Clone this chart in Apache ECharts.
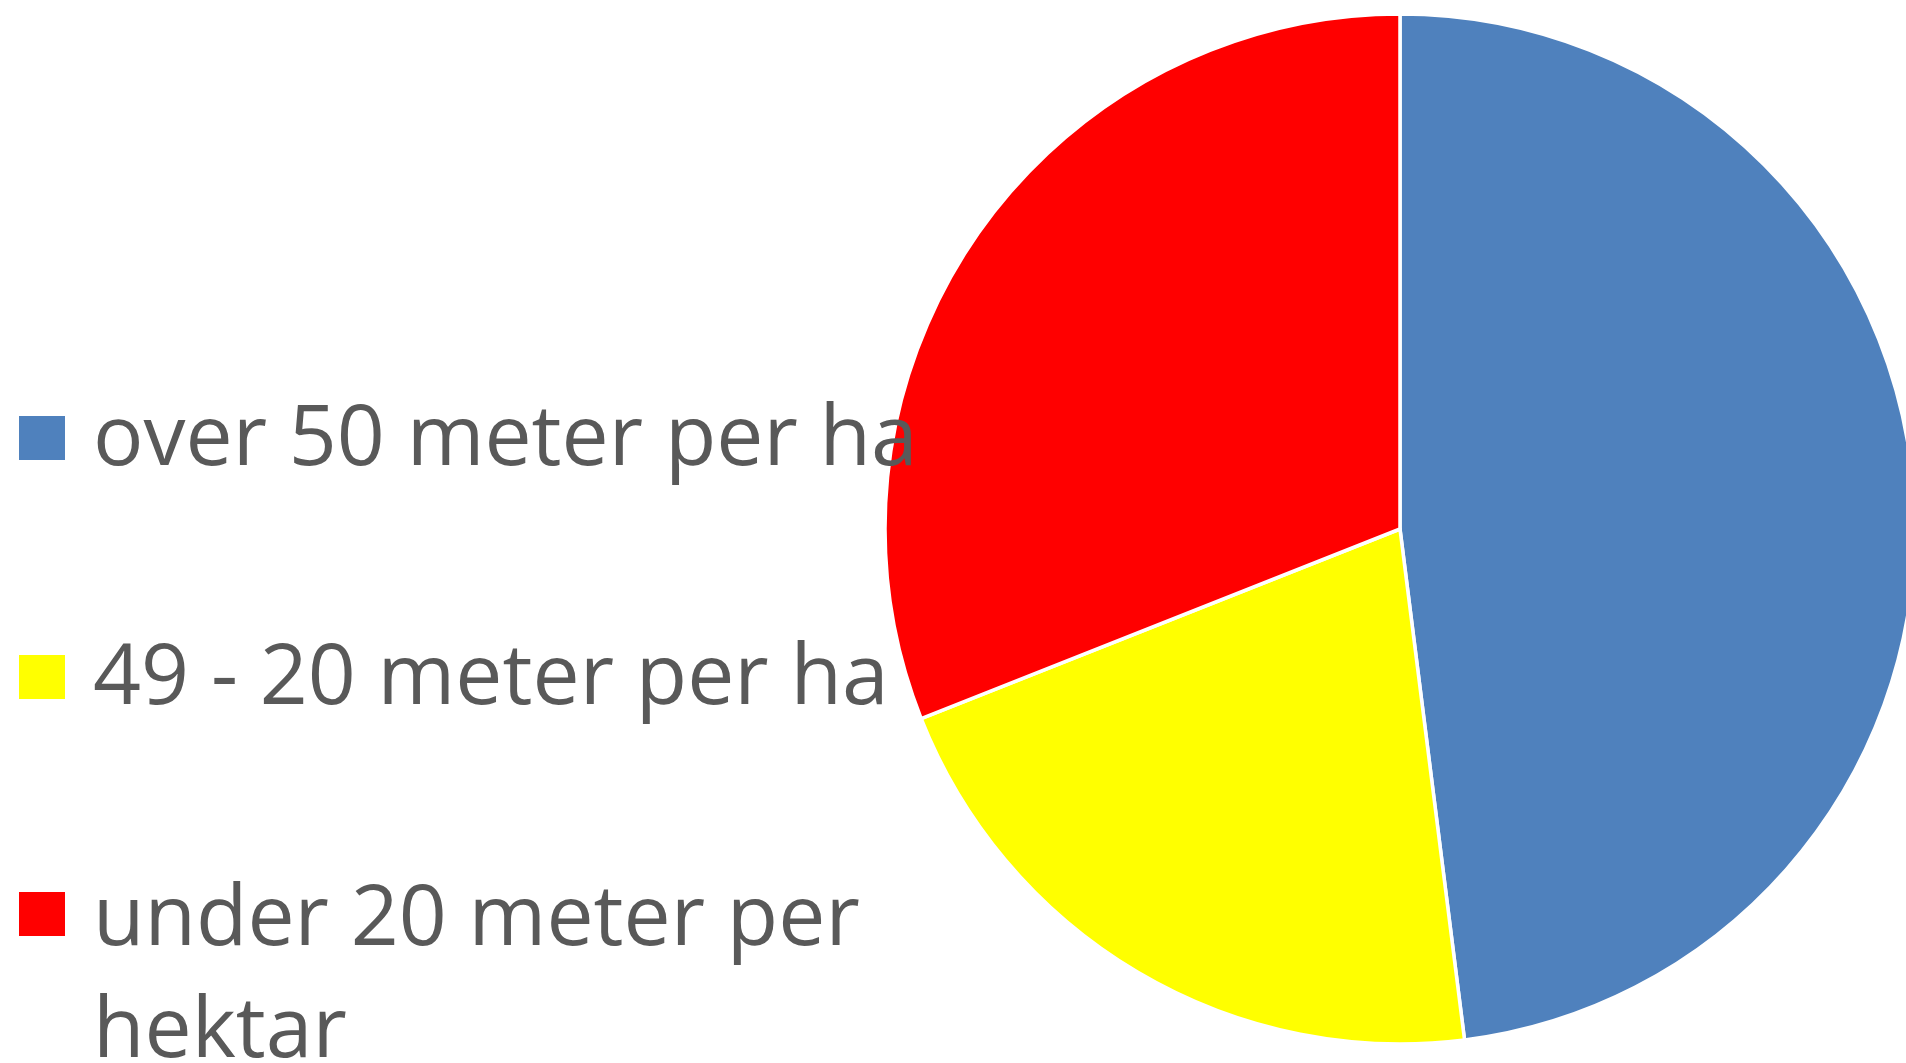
<!DOCTYPE html>
<html>
<head>
<meta charset="utf-8">
<script src="https://cdn.jsdelivr.net/npm/echarts@6/dist/echarts.min.js"></script>
<style>
html,body{margin:0;padding:0;background:#fff;}
#chart{width:1906px;height:1063px;}
</style>
</head>
<body>
<div id="chart"></div>
<script>
const categories = ['over 50 meter per ha', '49 - 20 meter per ha', 'under 20 meter per hektar'];
const shares = [48, 21, 31];
const colors = ['#4F81BD', '#FFFF00', '#FF0000'];

const chart = echarts.init(document.getElementById('chart'), null, {renderer: 'canvas'});

const FONT = '"Open Sans", "Noto Sans", sans-serif';

function legendFor(i, top, spacer, wrap) {
  return {
    show: true,
    orient: 'vertical',
    left: 19,
    top: top,
    padding: 0,
    icon: 'rect',
    itemWidth: 46,
    itemHeight: 44,
    selectedMode: false,
    itemStyle: {borderWidth: 0},
    data: [categories[i]],
    formatter: function (name) {
      const lines = wrap ? name.replace(/ (\S+)$/, '\n$1').split('\n') : [name];
      return '{s| }\n' + lines.map(l => '{t|' + l + '}').join('\n');
    },
    textStyle: {
      fontFamily: FONT,
      fontSize: 84,
      color: '#595959',
      padding: [0, 0, 0, 23],
      rich: {
        s: {fontFamily: FONT, fontSize: 84, lineHeight: spacer, color: '#595959'},
        t: {fontFamily: FONT, fontSize: 84, lineHeight: 112, color: '#595959'}
      }
    }
  };
}

const option = {
  animation: false,
  backgroundColor: '#ffffff',
  color: colors,
  legend: [
    legendFor(0, 340, 6, false),
    legendFor(1, 579, 6, false),
    legendFor(2, 760, 126, true)
  ],
  series: [{
    type: 'pie',
    center: [1400, 529],
    radius: 515,
    startAngle: 90,
    clockwise: true,
    label: {show: false},
    labelLine: {show: false},
    emphasis: {disabled: true},
    itemStyle: {borderColor: '#ffffff', borderWidth: 3.5},
    data: categories.map((n, i) => ({name: n, value: shares[i]}))
  }]
};
chart.setOption(option);
</script>
</body>
</html>
